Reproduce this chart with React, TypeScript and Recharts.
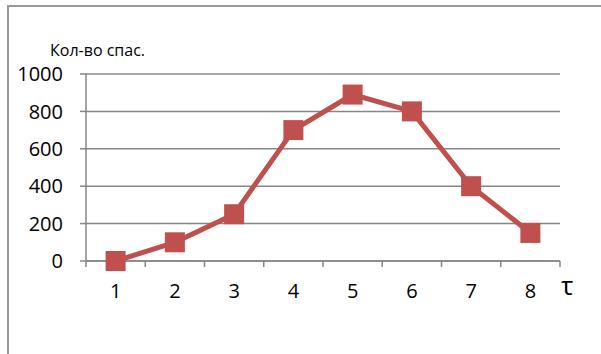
import { LineChart, Line, XAxis, YAxis, CartesianGrid } from 'recharts';

// τ periods and rescued count per period
const periods = [1, 2, 3, 4, 5, 6, 7, 8];
const rescued = [0, 100, 250, 700, 890, 800, 400, 150];
const yTicks = [0, 200, 400, 600, 800, 1000];

const data = periods.map((t, i) => ({ t, value: rescued[i] }));

// labels at category centers, tick marks between categories (Excel style)
const xTicks = [0.5, 1, 1.5, 2, 2.5, 3, 3.5, 4, 4.5, 5, 5.5, 6, 6.5, 7, 7.5, 8, 8.5];

const RED = '#C0504D';
const GRID = '#878787';
const FONT = '"Open Sans", "Liberation Sans", sans-serif';

const XTick = (props: any) => {
  const { x, y, payload } = props;
  if (Number.isInteger(payload.value)) {
    return (
      <text x={x} y={y + 37} textAnchor="middle" fontSize={20} fill="#000" fontFamily={FONT}>
        {payload.value}
      </text>
    );
  }
  return <line x1={x} y1={y} x2={x} y2={y + 6} stroke={GRID} strokeWidth={1.5} />;
};

const SquareDot = (props: any) => {
  const { cx, cy, index } = props;
  return <rect key={`dot-${index}`} x={cx - 10} y={cy - 10} width={20} height={20} fill={RED} />;
};

export default function App() {
  return (
    <div style={{ position: 'absolute', left: 0, top: 0, width: 601, height: 354, background: '#fff' }}>
      <div
        style={{
          position: 'absolute',
          left: 7,
          top: 5,
          right: 0,
          bottom: 0,
          borderTop: '2px solid #999',
          borderLeft: '2px solid #999',
        }}
      />
      <div style={{ position: 'absolute', left: 0, top: 0 }}>
        <LineChart width={601} height={354} data={data} margin={{ top: 74, right: 41, bottom: 63, left: 0 }}>
          <CartesianGrid vertical={false} stroke={GRID} strokeWidth={1.5} />
          <XAxis
            dataKey="t"
            type="number"
            domain={[0.5, 8.5]}
            ticks={xTicks}
            interval={0}
            height={30}
            axisLine={{ stroke: GRID, strokeWidth: 1.5 }}
            tickLine={false}
            tickSize={0}
            tickMargin={0}
            tick={<XTick />}
            label={{
              content: ({ viewBox }: any) => (
                <text
                  x={viewBox.x + viewBox.width + 1}
                  y={viewBox.y + 34}
                  fontSize={26}
                  fill="#000"
                  fontFamily={FONT}
                >
                  τ
                </text>
              ),
            }}
          />
          <YAxis
            domain={[0, 1000]}
            ticks={yTicks}
            interval={0}
            width={86}
            axisLine={{ stroke: GRID, strokeWidth: 1.5 }}
            tickLine={{ stroke: GRID, strokeWidth: 1.5 }}
            tickSize={6}
            tickMargin={17}
            tick={{ fontSize: 20, fill: '#000', fontFamily: FONT }}
            label={{
              content: ({ viewBox }: any) => (
                <text x={viewBox.x + 50} y={viewBox.y - 18} fontSize={16} fill="#000" fontFamily={FONT}>
                  Кол-во спас.
                </text>
              ),
            }}
          />
          <Line
            type="linear"
            dataKey="value"
            stroke={RED}
            strokeWidth={5}
            dot={<SquareDot />}
            activeDot={false}
            isAnimationActive={false}
          />
        </LineChart>
      </div>
    </div>
  );
}
